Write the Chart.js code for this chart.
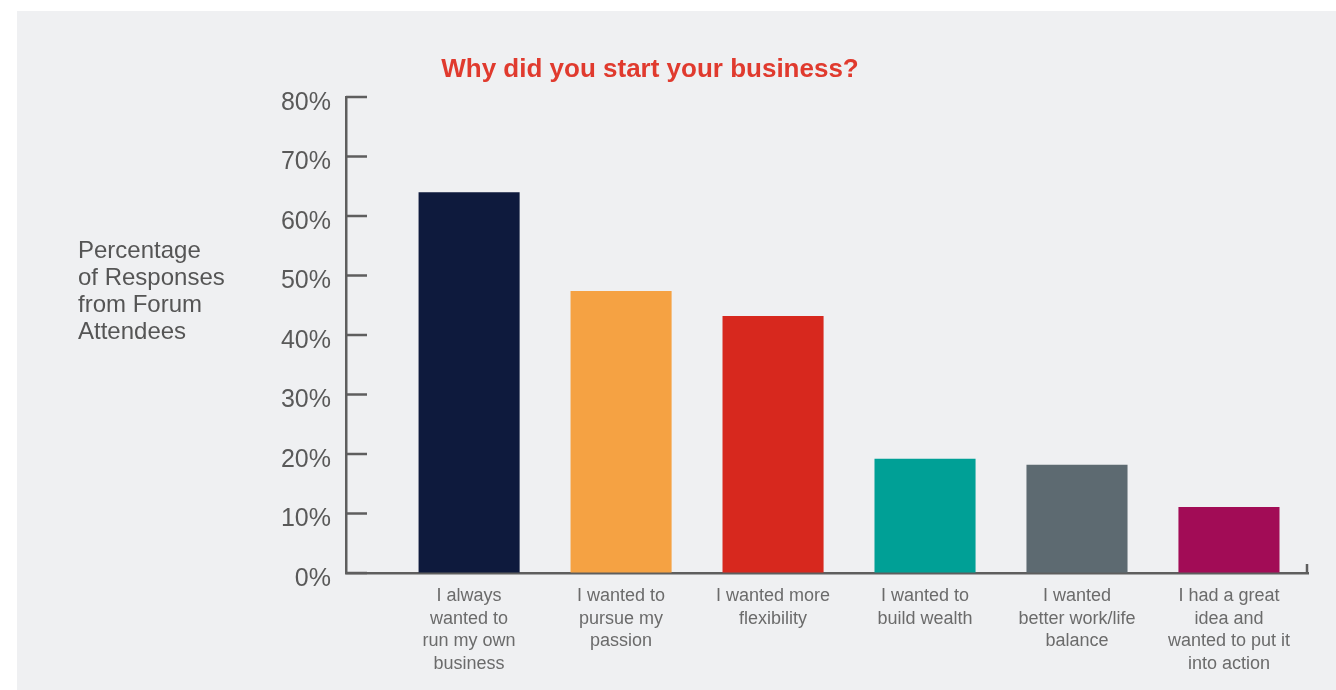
<!DOCTYPE html>
<html>
<head>
<meta charset="utf-8">
<title>Why did you start your business?</title>
<script src="https://cdn.jsdelivr.net/npm/chart.js@4.4.1/dist/chart.umd.min.js"></script>
<style>
  html, body { margin: 0; padding: 0; background: #ffffff; }
  #panel { position: absolute; left: 17px; top: 11px; width: 1319px; height: 679px; background: #eff0f2; }
  #wrap  { position: absolute; left: 0; top: 0; width: 1336px; height: 690px; }
</style>
</head>
<body>
<div id="panel"></div>
<div id="wrap"><canvas id="chart"></canvas></div>
<script>
'use strict';

// ── Datos ──────────────────────────────────────────────────────────────
const categories = [
  ['I always', 'wanted to', 'run my own', 'business'],
  ['I wanted to', 'pursue my', 'passion'],
  ['I wanted more', 'flexibility'],
  ['I wanted to', 'build wealth'],
  ['I wanted', 'better work/life', 'balance'],
  ['I had a great', 'idea and', 'wanted to put it', 'into action'],
];
const responses = [64.0, 47.4, 43.2, 19.2, 18.2, 11.1];
const barColors = ['#0e1a3d', '#f5a243', '#d7281e', '#00a096', '#5d6a71', '#a20c56'];
const yTicks    = [0, 10, 20, 30, 40, 50, 60, 70, 80];
const titleText = 'Why did you start your business?';
const yTitle    = ['Percentage', 'of Responses', 'from Forum', 'Attendees'];

// ── Colores / fuentes ──────────────────────────────────────────────────
const C = {
  axis:  '#5e5e5e',
  tick:  '#595959',
  label: '#6b6b6b',
  title: '#e03a2e',
};
const FONT = "'Liberation Sans', Arial, Helvetica, sans-serif";

// ── Plugin: titulo, titulo del eje Y y marcas internas ────────────────
const decorations = {
  id: 'decorations',
  afterDraw(chart) {
    const { ctx, chartArea, scales: { y } } = chart;
    ctx.save();

    // marcas del eje Y hacia adentro
    ctx.strokeStyle = C.axis;
    ctx.lineWidth = 2.5;
    yTicks.forEach(v => {
      const py = y.getPixelForValue(v);
      ctx.beginPath();
      ctx.moveTo(chartArea.left, py);
      ctx.lineTo(chartArea.left + 21, py);
      ctx.stroke();
    });
    // marca final del eje X
    ctx.beginPath();
    ctx.moveTo(chartArea.right - 1, chartArea.bottom);
    ctx.lineTo(chartArea.right - 1, chartArea.bottom - 9);
    ctx.stroke();

    // titulo
    ctx.fillStyle = C.title;
    ctx.font = `bold 26px ${FONT}`;
    ctx.textAlign = 'center';
    ctx.textBaseline = 'alphabetic';
    ctx.fillText(titleText, 650, 77);

    // titulo del eje Y
    ctx.fillStyle = '#555555';
    ctx.font = `24px ${FONT}`;
    ctx.textAlign = 'left';
    yTitle.forEach((line, i) => ctx.fillText(line, 78, 258 + i * 27));

    ctx.restore();
  },
};

// ── Grafico ────────────────────────────────────────────────────────────
new Chart(document.getElementById('chart'), {
  type: 'bar',
  data: {
    datasets: [{
      data: responses.map((v, i) => ({ x: i, y: v })),
      backgroundColor: barColors,
      borderWidth: 0,
      categoryPercentage: 1,
      barPercentage: 0.665,
    }],
  },
  options: {
    responsive: true,
    maintainAspectRatio: false,
    animation: false,
    layout: { padding: { top: 97, right: 28, bottom: 0, left: 0 } },
    plugins: {
      legend:  { display: false },
      title:   { display: false },
      tooltip: { enabled: false },
    },
    scales: {
      x: {
        type: 'linear',
        offset: false,
        min: -0.81,
        max: 5.52,
        afterBuildTicks: scale => { scale.ticks = categories.map((_, i) => ({ value: i })); },
        afterFit: scale => { scale.height = 117; },
        grid:   { offset: false, drawOnChartArea: false, drawTicks: false },
        border: { color: C.axis, width: 2.5 },
        ticks: {
          autoSkip: false,
          maxRotation: 0,
          padding: 12,
          color: C.label,
          font: { family: FONT, size: 18, lineHeight: 1.25 },
          callback: value => categories[value] ?? '',
        },
      },
      y: {
        min: 0,
        max: 80,
        afterBuildTicks: scale => { scale.ticks = yTicks.map(v => ({ value: v })); },
        afterFit: scale => { scale.width = 346; },
        grid:   { drawOnChartArea: false, drawTicks: false },
        border: { color: C.axis, width: 2.5 },
        ticks: {
          padding: 15,
          labelOffset: 6,
          color: C.tick,
          font: { family: FONT, size: 25 },
          callback: v => v + '%',
        },
      },
    },
  },
  plugins: [decorations],
});
</script>
</body>
</html>
